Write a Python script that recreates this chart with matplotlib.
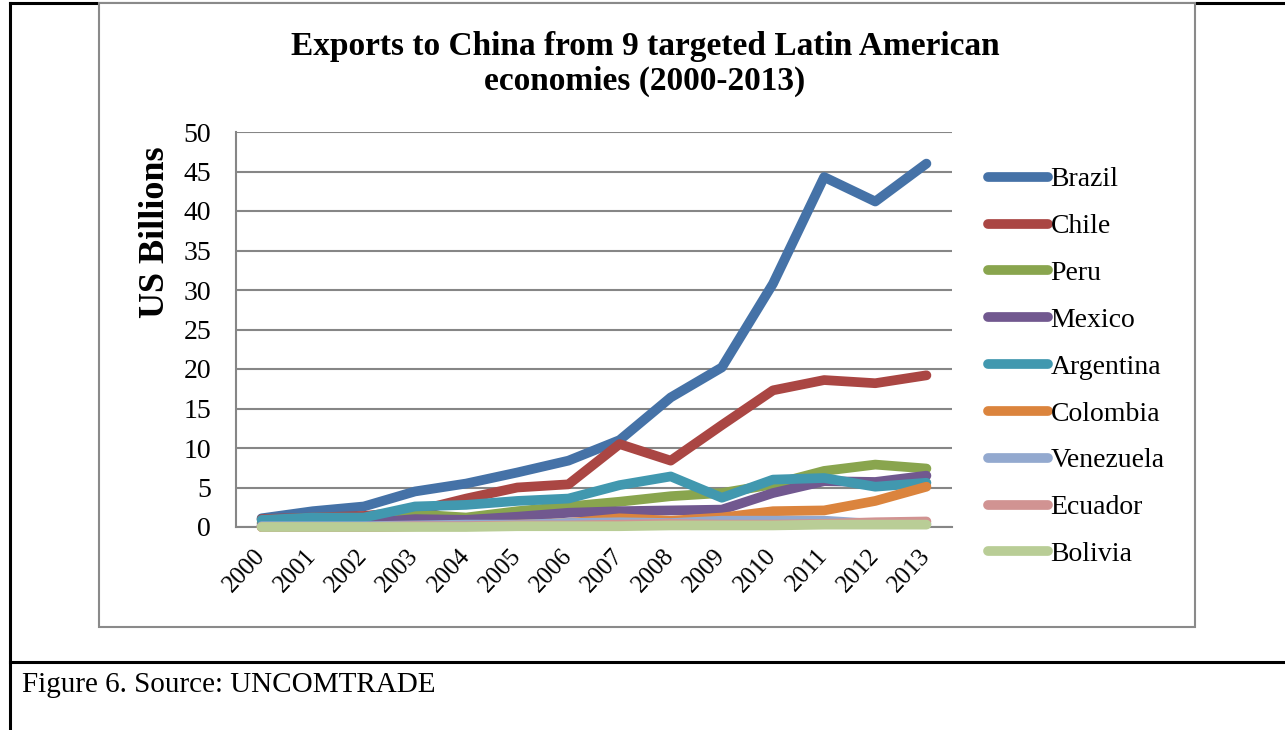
import matplotlib
matplotlib.use("Agg")
import matplotlib.pyplot as plt
from matplotlib.lines import Line2D
from matplotlib.patches import Rectangle

years = ["2000", "2001", "2002", "2003", "2004", "2005", "2006",
         "2007", "2008", "2009", "2010", "2011", "2012", "2013"]

countries = ["Brazil", "Chile", "Peru", "Mexico", "Argentina",
             "Colombia", "Venezuela", "Ecuador", "Bolivia"]

brazil = [1.1, 2.0, 2.6, 4.5, 5.5, 6.9, 8.4, 11.0, 16.4, 20.2, 30.8, 44.3, 41.2, 46.0]
chile = [1.0, 1.2, 1.4, 2.0, 3.6, 5.0, 5.4, 10.5, 8.4, 12.9, 17.3, 18.6, 18.2, 19.2]
peru = [0.5, 0.6, 0.7, 1.6, 1.2, 2.0, 2.6, 3.2, 3.9, 4.3, 5.4, 7.1, 7.9, 7.4]
mexico = [0.2, 0.3, 0.5, 1.0, 0.9, 1.3, 1.8, 2.0, 2.1, 2.2, 4.3, 5.8, 5.7, 6.5]
argentina = [0.9, 1.2, 1.2, 2.6, 2.8, 3.3, 3.6, 5.3, 6.4, 3.7, 6.0, 6.2, 5.1, 5.6]
colombia = [0.0, 0.0, 0.0, 0.1, 0.2, 0.3, 0.5, 1.1, 0.8, 1.2, 2.0, 2.1, 3.3, 5.1]
venezuela = [0.1, 0.1, 0.1, 0.2, 0.3, 0.3, 0.5, 0.6, 0.5, 0.8, 0.8, 0.8, 0.4, 0.4]
ecuador = [0.0, 0.0, 0.0, 0.1, 0.1, 0.2, 0.2, 0.3, 0.4, 0.3, 0.3, 0.4, 0.6, 0.7]
bolivia = [0.0, 0.0, 0.0, 0.0, 0.0, 0.1, 0.1, 0.1, 0.2, 0.2, 0.2, 0.3, 0.3, 0.3]

series = [brazil, chile, peru, mexico, argentina,
          colombia, venezuela, ecuador, bolivia]
colors = ["#4572A7", "#AA4643", "#89A54E", "#71588F", "#4198AF",
          "#DB843D", "#93A9CF", "#D19392", "#B9CD96"]

SERIF = "Liberation Serif"
W, H = 1285, 730

fig = plt.figure(figsize=(W / 100, H / 100), dpi=100)
fig.patch.set_facecolor("white")


def fx(px):
    return px / W


def fy(py):
    return 1 - py / H


# document table borders
for xs, ys in [((10, 10), (3, 730)),
               ((10, 1285), (3, 3)),
               ((10, 1285), (662, 662))]:
    fig.add_artist(Line2D([fx(x) for x in xs], [fy(y) for y in ys],
                          color="black", lw=2.2, zorder=1))

# chart frame
fig.add_artist(Rectangle((fx(99), fy(627)), fx(1195) - fx(99), fy(3) - fy(627),
                         facecolor="white", edgecolor="#8a8a8a", lw=1.5,
                         zorder=2))

ax = fig.add_axes([fx(236), fy(527), fx(952) - fx(236), fy(132) - fy(527)],
                  zorder=3)
ax.set_facecolor("none")

x = list(range(len(years)))
for name, vals, c in zip(countries, series, colors):
    ax.plot(x, vals, color=c, lw=7, label=name, clip_on=False, zorder=3,
            solid_capstyle="round", solid_joinstyle="round")

ax.set_xlim(-0.5, len(years) - 0.5)
ax.set_ylim(0, 50)
ax.set_yticks(range(0, 51, 5))
ax.set_xticks(x)
ax.set_xticklabels(years, rotation=47, rotation_mode="anchor",
                   ha="right", va="center",
                   fontfamily=SERIF, fontsize=18)
for lab in ax.get_yticklabels():
    lab.set_fontfamily(SERIF)
    lab.set_fontsize(20)
ax.tick_params(axis="both", length=0)
ax.tick_params(axis="y", pad=18)
ax.tick_params(axis="x", pad=18)
ax.grid(axis="y", color="#868686", lw=1.5)
ax.set_axisbelow(True)
for side in ["top", "right"]:
    ax.spines[side].set_visible(False)
for side in ["left", "bottom"]:
    ax.spines[side].set_color("#868686")
    ax.spines[side].set_linewidth(1.5)

fig.text(fx(645), fy(64),
         "Exports to China from 9 targeted Latin American\neconomies (2000-2013)",
         ha="center", va="center", fontfamily=SERIF, fontweight="bold",
         fontsize=24, linespacing=1.12, zorder=4)

fig.text(fx(155), fy(232), "US Billions", rotation=90, ha="center", va="center",
         fontfamily=SERIF, fontweight="bold", fontsize=26, zorder=4)

leg = ax.legend(loc="upper left", bbox_to_anchor=(fx(988), fy(167)),
                bbox_transform=fig.transFigure, frameon=False,
                prop={"family": SERIF, "size": 20},
                handlelength=2.15, handletextpad=0.1, labelspacing=0.77,
                borderpad=0, borderaxespad=0)

fig.text(fx(22), fy(685), "Figure 6. Source: UNCOMTRADE", ha="left",
         va="center", fontfamily=SERIF, fontsize=21, zorder=4)

fig.savefig("out.png", dpi=100)
